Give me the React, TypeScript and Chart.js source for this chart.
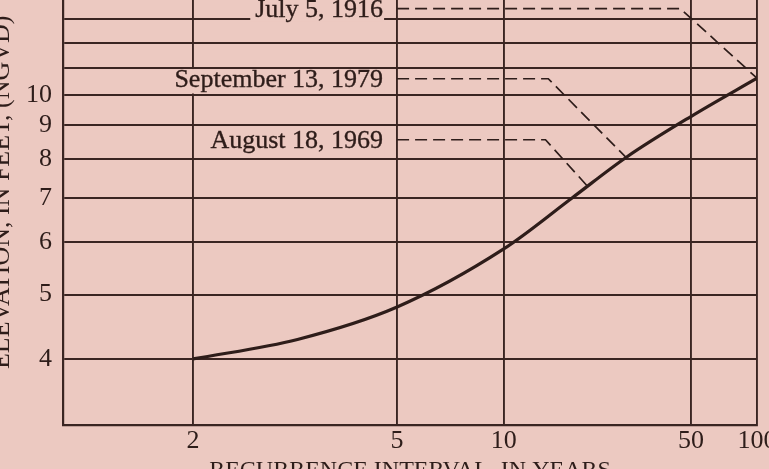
import React, { useEffect, useRef } from "react";
import { Chart, registerables } from "chart.js";

Chart.register(...registerables);

// ---- data ----
const RETURN_PERIODS = [2, 3, 5, 10, 17, 27, 50, 100];
const ELEVATIONS = [4.0, 4.28, 4.79, 5.86, 7.0, 8.05, 9.28, 10.6];

const X_TICKS = [2, 5, 10, 50, 100];
const X_MIN_T = 1.42;
const X_MAX_T = 100;

const Y_TICKS = [4, 5, 6, 7, 8, 9, 10, 11, 12, 13, 14, 15, 16];
const Y_LABELED_MAX = 10;
const Y_MIN = 3.18;
const Y_MAX = 16;

const EVENT_LABELS = ["July 5, 1916", "September 13, 1979", "August 18, 1969"];
const EVENT_LEADER_T = [
  [5, 45, 100],
  [5, 14, 27],
  [5, 13.7, 19.2],
];
const EVENT_LEADER_ELEV = [
  [13.5, 13.5, 10.6],
  [10.58, 10.58, 8.05],
  [8.56, 8.56, 7.3],
];
const EVENT_BAND_HI = [null, 11, 9];
const EVENT_BAND_LO = [12.85, 10, 8];

// ---- styling ----
const BG = "#ecc9c1";
const INK = "#2e1d1a";
const GRID = "#3a2522";
const FONT = '"Liberation Serif", "Times New Roman", serif';

// inverse standard normal CDF (Acklam)
function probit(p: number): number {
  const a = [-3.969683028665376e1, 2.209460984245205e2, -2.759285104469687e2, 1.38357751867269e2, -3.066479806614716e1, 2.506628277459239];
  const b = [-5.447609879822406e1, 1.615858368580409e2, -1.556989798598866e2, 6.680131188771972e1, -1.328068155288572e1];
  const c = [-7.784894002430293e-3, -3.223964580411365e-1, -2.400758277161838, -2.549732539343734, 4.374664141464968, 2.938163982698783];
  const d = [7.784695709041462e-3, 3.224671290700398e-1, 2.445134137142996, 3.754408661907416];
  const pl = 0.02425;
  let q: number, r: number;
  if (p < pl) {
    q = Math.sqrt(-2 * Math.log(p));
    return (((((c[0] * q + c[1]) * q + c[2]) * q + c[3]) * q + c[4]) * q + c[5]) / ((((d[0] * q + d[1]) * q + d[2]) * q + d[3]) * q + 1);
  }
  if (p <= 1 - pl) {
    q = p - 0.5;
    r = q * q;
    return ((((((a[0] * r + a[1]) * r + a[2]) * r + a[3]) * r + a[4]) * r + a[5]) * q) / (((((b[0] * r + b[1]) * r + b[2]) * r + b[3]) * r + b[4]) * r + 1);
  }
  q = Math.sqrt(-2 * Math.log(1 - p));
  return -(((((c[0] * q + c[1]) * q + c[2]) * q + c[3]) * q + c[4]) * q + c[5]) / ((((d[0] * q + d[1]) * q + d[2]) * q + d[3]) * q + 1);
}
// recurrence interval -> normal probability axis value
const zOf = (T: number) => probit(1 - 1 / T);

const labelPlugin = {
  id: "eventLabels",
  beforeDatasetsDraw(chart: any) {
    const { ctx, chartArea } = chart;
    const xs = chart.scales.x;
    const ys = chart.scales.y;
    ctx.save();
    ctx.font = `26px ${FONT}`;
    ctx.textBaseline = "middle";
    ctx.textAlign = "left";
    EVENT_LABELS.forEach((text, i) => {
      const startX = xs.getPixelForValue(zOf(EVENT_LEADER_T[i][0]));
      const y = ys.getPixelForValue(EVENT_LEADER_ELEV[i][0]);
      const w = ctx.measureText(text).width;
      const textRight = startX - 14;
      const textLeft = textRight - w;
      const hi = EVENT_BAND_HI[i];
      const top = hi == null ? chartArea.top : ys.getPixelForValue(hi) + 1.5;
      const bottom = ys.getPixelForValue(EVENT_BAND_LO[i]) - 1.5;
      ctx.fillStyle = BG;
      ctx.fillRect(textLeft - 5, top, w + 6, bottom - top);
      ctx.fillStyle = INK;
      ctx.fillText(text, textLeft, y + 1.5);
      ctx.lineWidth = 0.35;
      ctx.strokeStyle = INK;
      ctx.strokeText(text, textLeft, y + 1.5);
    });
    ctx.restore();
  },
};

const bgPlugin = {
  id: "bg",
  beforeDraw(chart: any) {
    const { ctx, width, height } = chart;
    ctx.save();
    ctx.fillStyle = BG;
    ctx.fillRect(0, 0, width, height);
    ctx.restore();
  },
};

export default function App() {
  const ref = useRef<HTMLCanvasElement | null>(null);

  useEffect(() => {
    if (!ref.current) return;
    const curve = RETURN_PERIODS.map((T, i) => ({ x: zOf(T), y: ELEVATIONS[i] }));
    const leaders = EVENT_LABELS.map((label, i) => ({
      label,
      data: EVENT_LEADER_T[i].map((T, j) => ({ x: zOf(T), y: EVENT_LEADER_ELEV[i][j] })),
      borderColor: INK,
      borderWidth: 1.7,
      borderDash: [12, 6],
      pointRadius: 0,
      tension: 0,
      fill: false,
    }));

    const chart = new Chart(ref.current, {
      type: "line",
      data: {
        datasets: [
          {
            label: "Stage-frequency curve",
            data: curve,
            borderColor: INK,
            borderWidth: 3.2,
            pointRadius: 0,
            cubicInterpolationMode: "monotone",
            fill: false,
          },
          ...leaders,
        ],
      },
      options: {
        animation: false,
        responsive: true,
        maintainAspectRatio: false,
        layout: { padding: { left: 0, right: 30, top: 20, bottom: 0 } },
        plugins: { legend: { display: false }, tooltip: { enabled: false } },
        scales: {
          x: {
            type: "linear",
            min: zOf(X_MIN_T),
            max: zOf(X_MAX_T),
            afterBuildTicks: (scale: any) => {
              scale.ticks = X_TICKS.map((T) => ({ value: zOf(T) }));
            },
            afterFit: (scale: any) => {
              scale.height = 60;
            },
            ticks: {
              callback: (_v: any, idx: number) => String(X_TICKS[idx]),
              color: INK,
              font: { family: FONT, size: 26 },
              padding: 1,
              maxRotation: 0,
              autoSkip: false,
            },
            grid: { color: GRID, lineWidth: 1.9, drawTicks: false },
            border: { display: true, color: GRID, width: 2.2 },
            title: {
              display: true,
              text: "RECURRENCE INTERVAL, IN YEARS",
              color: INK,
              font: { family: FONT, size: 24 },
              padding: 0,
            },
          },
          y: {
            type: "logarithmic",
            min: Y_MIN,
            max: Y_MAX,
            afterBuildTicks: (scale: any) => {
              scale.ticks = Y_TICKS.map((v) => ({ value: v }));
            },
            afterFit: (scale: any) => {
              scale.width = 76;
            },
            ticks: {
              callback: (v: any) => (Number(v) <= Y_LABELED_MAX ? String(v) : ""),
              color: INK,
              font: { family: FONT, size: 26 },
              padding: 11,
              autoSkip: false,
            },
            grid: { color: GRID, lineWidth: 1.9, drawTicks: false },
            border: { display: true, color: GRID, width: 2.2 },
            title: {
              display: true,
              text: "ELEVATION, IN FEET, (NGVD)",
              color: INK,
              font: { family: FONT, size: 26 },
              padding: 0,
            },
          },
        },
      },
      plugins: [bgPlugin, labelPlugin],
    } as any);
    return () => chart.destroy();
  }, []);

  return (
    <div style={{ position: "fixed", left: 0, top: 0, width: 769, height: 469, overflow: "hidden", background: BG }}>
      <div style={{ position: "absolute", left: -13, top: -67, width: 800, height: 552 }}>
        <canvas ref={ref} />
      </div>
    </div>
  );
}
